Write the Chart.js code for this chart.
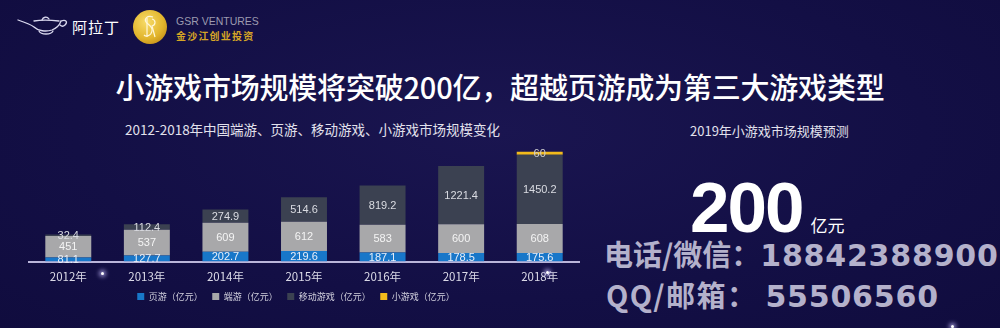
<!DOCTYPE html>
<html lang="zh-CN">
<head>
<meta charset="utf-8">
<title>小游戏市场规模</title>
<script src="https://cdn.jsdelivr.net/npm/chart.js@4.4.1/dist/chart.umd.min.js"></script>
<style>
  html, body { margin: 0; padding: 0; }
  body {
    width: 1000px; height: 328px; overflow: hidden; position: relative;
    background: radial-gradient(ellipse at 50% 40%, #1a1550 0%, #130f45 60%, #100c3e 100%);
    font-family: "Noto Sans CJK SC", "Noto Sans", sans-serif;
  }
  .abs { position: absolute; white-space: nowrap; }
  #chartBox { position: absolute; left: 0; top: 0; width: 600px; height: 328px; }
  .title { left: 0; width: 1000px; text-align: center; top: 66px; font-size: 29px; font-weight: 500; color: #ffffff; line-height: 40px; letter-spacing: -0.2px; }
  .sub { left: 125px; top: 119px; font-size: 13.5px; color: #e2e1ec; line-height: 20px; }
  .sub2 { left: 690px; top: 121px; font-size: 13px; color: #e2e1ec; line-height: 20px; }
  .big { left: 690px; top: 168px; font-family: "Liberation Sans", Arial, sans-serif; font-size: 71px; font-weight: 700; color: #ffffff; line-height: 80px; letter-spacing: -2px; }
  .big .u { font-family: "Noto Sans CJK SC", sans-serif; font-size: 17px; font-weight: 400; letter-spacing: 0; margin-left: 8px; }
  .wm { font-weight: 700; color: #b4b1cb; font-size: 29px; line-height: 36px; }
  .wm .num { font-family: "DejaVu Sans", sans-serif; font-size: 30px; letter-spacing: 0.8px; }
  .wm1 { left: 604px; top: 235px; }
  .wm2 { left: 606px; top: 276px; letter-spacing: 1.5px; }
  .wm2 .num { margin-left: 8px; }
  .brand { left: 72px; top: 16px; font-size: 15px; color: #ffffff; line-height: 22px; letter-spacing: 1px; }
  .gsr1 { left: 176px; top: 14px; font-family: "Liberation Sans", Arial, sans-serif; font-size: 10.5px; color: #9c9bb0; line-height: 14px; }
  .gsr2 { left: 176px; top: 29px; font-size: 10px; font-weight: 700; color: #d6a625; line-height: 14px; letter-spacing: 1.2px; }
  .star { position: absolute; width: 3px; height: 3px; border-radius: 50%; background: #ffffff; box-shadow: 0 0 4px 2px rgba(200,190,255,0.7); }
</style>
</head>
<body>
<!-- brand marks -->
<svg class="abs" style="left:14px;top:8px" width="56" height="30" viewBox="0 0 56 30">
  <g fill="none" stroke="#d9d8ee" stroke-width="1.3" stroke-linecap="round">
    <path d="M4 12 C10 14 16 16 20 19 C24 23 32 24 38 22 C43 20 46 16 47 13"/>
    <path d="M20 13 C26 12 36 12 45 13"/>
    <path d="M28 12 C29 9 33 8 35 11"/>
    <path d="M47 13 C52 11 54 14 51 17 C49 19 47 18 46 17"/>
    <path d="M25 23 C27 27 37 27 39 23"/>
  </g>
</svg>
<div class="abs brand">阿拉丁</div>
<svg class="abs" style="left:132px;top:9px" width="36" height="36" viewBox="0 0 36 36">
  <defs>
    <radialGradient id="gold" cx="40%" cy="35%" r="70%">
      <stop offset="0%" stop-color="#f7dc6a"/>
      <stop offset="70%" stop-color="#e2b52c"/>
      <stop offset="100%" stop-color="#c9951b"/>
    </radialGradient>
  </defs>
  <circle cx="18" cy="18" r="17" fill="url(#gold)"/>
  <g fill="none" stroke="#fff6d8" stroke-width="1.2">
    <path d="M21 8 C15 6 12 10 14 13 C16 16 21 17 20 22 C19 27 14 28 12 26"/>
    <path d="M15 9 L15 28"/>
    <path d="M20 10 C24 11 24 16 20 17 L23 28"/>
  </g>
</svg>
<div class="abs gsr1">GSR VENTURES</div>
<div class="abs gsr2">金沙江创业投资</div>

<div class="abs title">小游戏市场规模将突破200亿，超越页游成为第三大游戏类型</div>
<div class="abs sub">2012-2018年中国端游、页游、移动游戏、小游戏市场规模变化</div>
<div class="abs sub2">2019年小游戏市场规模预测</div>
<div class="abs big">200<span class="u">亿元</span></div>

<div id="chartBox"><canvas id="c" width="600" height="328"></canvas></div>

<div class="abs wm wm1">电话/微信：<span class="num">18842388900</span></div>
<div class="abs wm wm2">QQ/邮箱：<span class="num">55506560</span></div>

<div class="star" style="left:101px;top:272px"></div>
<div class="star" style="left:546px;top:271px"></div>
<div class="star" style="left:951px;top:325px"></div>

<script>
// Market size by year, in 亿元
const years = ['2012年', '2013年', '2014年', '2015年', '2016年', '2017年', '2018年'];
const webGames    = [81.1, 127.7, 202.7, 219.6, 187.1, 178.5, 175.6];   // 页游
const clientGames = [451, 537, 609, 612, 583, 600, 608];               // 端游
const mobileGames = [32.4, 112.4, 274.9, 514.6, 819.2, 1221.4, 1450.2]; // 移动游戏
const miniGames   = [0, 0, 0, 0, 0, 0, 60];                             // 小游戏
const seriesNames = ['页游（亿元）', '端游（亿元）', '移动游戏（亿元）', '小游戏（亿元）'];

const colors = ['#1877c9', '#a8a8aa', '#3b4151', '#f2bb1c'];
const labelColors = ['#e8eef8', '#f4f4f4', '#dadce2', '#cfcfcf'];

// Writes each segment's value in the middle of the segment
const segmentLabels = {
  id: 'segmentLabels',
  afterDatasetsDraw(chart) {
    const ctx = chart.ctx;
    ctx.save();
    ctx.font = '11px "Liberation Sans", Arial, sans-serif';
    ctx.textAlign = 'center';
    ctx.textBaseline = 'middle';
    chart.data.datasets.forEach((ds, di) => {
      const meta = chart.getDatasetMeta(di);
      meta.data.forEach((bar, i) => {
        const v = ds.data[i];
        if (!v) return;
        ctx.fillStyle = labelColors[di];
        ctx.fillText(String(v), bar.x, (bar.y + bar.base) / 2 + 0.5);
      });
    });
    ctx.restore();
  }
};

// Nudges the legend row a little to the left of the plot centre
const legendShift = {
  id: 'legendShift',
  afterLayout(chart) {
    if (chart.legend) {
      chart.legend.left -= 8;
      chart.legend.right -= 8;
    }
  }
};

new Chart(document.getElementById('c'), {
  type: 'bar',
  data: {
    labels: years,
    datasets: [
      { label: seriesNames[0], data: webGames,    backgroundColor: colors[0] },
      { label: seriesNames[1], data: clientGames, backgroundColor: colors[1] },
      { label: seriesNames[2], data: mobileGames, backgroundColor: colors[2] },
      { label: seriesNames[3], data: miniGames,   backgroundColor: colors[3] }
    ]
  },
  options: {
    responsive: false,
    animation: false,
    devicePixelRatio: 1,
    layout: { padding: { top: 142, left: 29, right: 21, bottom: 17 } },
    datasets: { bar: { barPercentage: 0.585, categoryPercentage: 1, borderWidth: 0 } },
    scales: {
      x: {
        stacked: true,
        grid: { display: false, drawTicks: false },
        border: { display: true, color: '#bab5da', width: 2 },
        ticks: { color: '#dcdbe8', padding: 8, font: { family: '"Noto Sans CJK SC", sans-serif', size: 11.5 } },
        afterFit(scale) { scale.height = 21; }
      },
      y: {
        stacked: true,
        display: false,
        min: 0,
        max: 2500
      }
    },
    plugins: {
      tooltip: { enabled: false },
      legend: {
        position: 'bottom',
        labels: {
          color: '#d2d1de',
          boxWidth: 7,
          boxHeight: 7,
          padding: 9.5,
          font: { family: '"Noto Sans CJK SC", sans-serif', size: 9 }
        }
      }
    }
  },
  plugins: [segmentLabels, legendShift]
});
</script>
</body>
</html>
